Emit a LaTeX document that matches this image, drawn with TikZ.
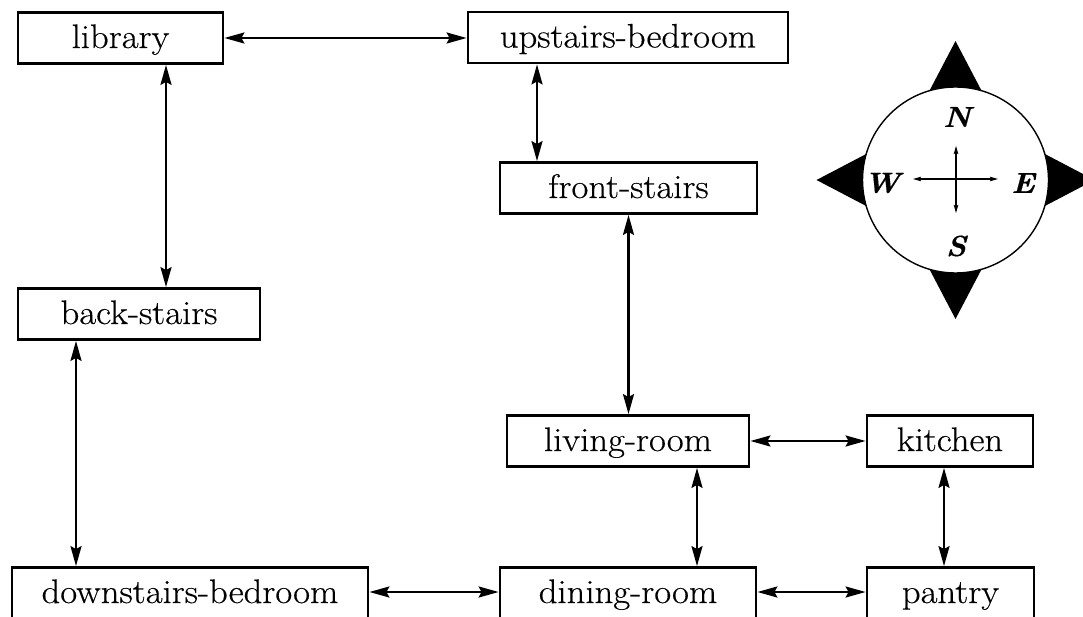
\documentclass[tikz,border=0pt]{standalone}
\usepackage{fontspec}
\setmainfont{Latin Modern Roman}[FakeStretch=1.08,FakeBold=0.4]
\newfontfamily\compassfont{Latin Modern Roman}[FakeBold=0.6]
\usetikzlibrary{arrows.meta}
\begin{document}
\begin{tikzpicture}[x=1pt,y=-1pt,
  room/.style={draw,line width=2.8pt,fill=white,minimum height=51pt,inner sep=0pt,
    text height=25pt,text depth=5pt,font=\fontsize{34}{40}\selectfont},
  link/.style={line width=2.3pt,{Stealth[length=20pt,width=11pt,inset=3pt]}-{Stealth[length=20pt,width=11pt,inset=3pt]}},
  smalllink/.style={line width=1.1pt,{Stealth[length=8pt,width=4.5pt,inset=1pt]}-{Stealth[length=8pt,width=4.5pt,inset=1pt]}},
  dirletter/.style={inner sep=0pt,font=\fontsize{29}{32}\selectfont\bfseries\itshape}]
\useasboundingbox (0,0) rectangle (1083,617);
% rooms
\node[room,minimum width=205pt] (library) at (120.5,38) {library};
\node[room,minimum width=320pt] (upstairs) at (628,37.5) {upstairs-bedroom};
\node[room,minimum width=257pt] (frontstairs) at (628.5,188) {front-stairs};
\node[room,minimum width=242pt] (backstairs) at (139,314) {back-stairs};
\node[room,minimum width=242pt] (living) at (628,441) {living-room};
\node[room,minimum width=166pt] (kitchen) at (950,441) {kitchen};
\node[room,minimum width=356pt] (downstairs) at (190,593) {downstairs-bedroom};
\node[room,minimum width=256pt] (dining) at (628,593) {dining-room};
\node[room,minimum width=167pt] (pantry) at (950.5,593) {pantry};
% guide coordinates for connector columns
\coordinate (xa) at (166,0);
\coordinate (xb) at (537,0);
\coordinate (xc) at (76,0);
\coordinate (xd) at (697,0);
\coordinate (xe) at (944,0);
\coordinate (ya) at (0,592);
% connectors
\draw[link] (library.east) -- (library.east -| upstairs.west);
\draw[link] (library.south -| xa) -- (backstairs.north -| xa);
\draw[link] (upstairs.south -| xb) -- (frontstairs.north -| xb);
\draw[link] (frontstairs.south) -- (frontstairs.south |- living.north);
\draw[link] (backstairs.south -| xc) -- (downstairs.north -| xc);
\draw[link] (living.east) -- (living.east -| kitchen.west);
\draw[link] (living.south -| xd) -- (dining.north -| xd);
\draw[link] (kitchen.south -| xe) -- (pantry.north -| xe);
\draw[link] (downstairs.east |- ya) -- (dining.west |- ya);
\draw[link] (dining.east |- ya) -- (pantry.west |- ya);
% compass
\coordinate (cc) at (955.5,180);
\foreach \a in {0,90,180,270}
  \fill[shift={(cc)},rotate=\a] (139,0) -- (55,44) -- (55,-44) -- cycle;
\draw[line width=1.4pt,fill=white] (cc) circle (93pt);
\node[dirletter] (N) at (957,117) {N};
\node[dirletter] (S) at (956,246) {S};
\node[dirletter] (W) at (882,183) {W};
\node[dirletter] (E) at (1023,183) {E};
\coordinate (cw) at (913,179);
\coordinate (ce) at (998,179);
\coordinate (cn) at (956,146);
\coordinate (cs) at (956,213);
\draw[smalllink] (cw) -- (ce);
\draw[smalllink] (cn) -- (cs);
\end{tikzpicture}
\end{document}
